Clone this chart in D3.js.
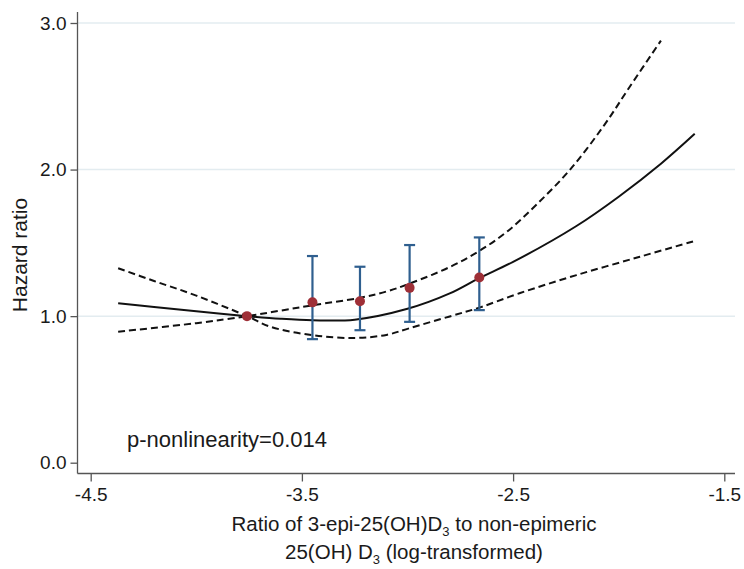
<!DOCTYPE html>
<html>
<head>
<meta charset="utf-8">
<script src="https://cdn.jsdelivr.net/npm/d3@7"></script>
<style>
body { margin: 0; background: #fff; }
svg text { font-family: "Liberation Sans", Arial, sans-serif; fill: #1a1a1a; }
</style>
</head>
<body>
<svg width="744" height="569"></svg>
<script>
// fitted spline (hazard ratio)
var fitX = [-4.37, -4.2, -4.0, -3.76, -3.6, -3.45, -3.25, -3.0, -2.8, -2.66, -2.5, -2.2, -2.0, -1.8, -1.64];
var fitHR = [1.088, 1.062, 1.033, 1.0, 0.982, 0.972, 0.976, 1.05, 1.155, 1.26, 1.37, 1.615, 1.815, 2.04, 2.244];

// 95% CI bands, they cross at the reference value
var ciAX = [-4.37, -4.2, -4.0, -3.76, -3.65, -3.45, -3.25, -3.1, -2.99, -2.8, -2.66, -2.47, -2.2, -1.9, -1.64];
var ciAHR = [1.327, 1.24, 1.14, 1.0, 0.928, 0.87, 0.851, 0.872, 0.918, 0.998, 1.058, 1.156, 1.28, 1.405, 1.513];
var ciBX = [-4.37, -4.0, -3.76, -3.6, -3.45, -3.225, -3.1, -2.99, -2.8, -2.66, -2.53, -2.39, -2.23, -2.07, -1.95, -1.80];
var ciBHR = [0.894, 0.952, 1.0, 1.038, 1.074, 1.125, 1.168, 1.222, 1.335, 1.445, 1.575, 1.76, 2.0, 2.3, 2.56, 2.88];

// category estimates
var ptX = [-3.76, -3.45, -3.225, -2.99, -2.66];
var ptHR = [1.0, 1.094, 1.102, 1.193, 1.264];
var ptLo = [null, 0.843, 0.904, 0.961, 1.041];
var ptHi = [null, 1.41, 1.337, 1.485, 1.537];

var xTicks = [-4.5, -3.5, -2.5, -1.5];
var yTicks = [0, 1, 2, 3];

var svg = d3.select('svg');

var x = d3.scaleLinear().domain([-4.5, -1.5]).range([90.7, 724.3]);
var y = d3.scaleLinear().domain([0, 3]).range([462.7, 23]);

var axisX = 77.5, axisY = 473.5;
var fmt = function(d){ return d.toFixed(1); };

// grid
svg.selectAll('.grid')
    .data(yTicks.filter(function(d){ return d > 0; }))
    .enter()
    .append('line')
    .attr('x1', axisX)
    .attr('x2', 735)
    .attr('y1', function(d){ return y(d); })
    .attr('y2', function(d){ return y(d); })
    .attr('stroke', '#e3ecf0')
    .attr('stroke-width', 1.5);

// axes
var yAxis = svg.append('g')
    .attr('transform', 'translate(' + axisX + ',0)')
    .call(d3.axisLeft(y).tickValues(yTicks).tickFormat(fmt).tickSize(7).tickPadding(4).tickSizeOuter(0));
var xAxis = svg.append('g')
    .attr('transform', 'translate(0,' + axisY + ')')
    .call(d3.axisBottom(x).tickValues(xTicks).tickFormat(fmt).tickSize(8).tickPadding(6).tickSizeOuter(0));

[yAxis, xAxis].forEach(function(g){
    g.select('.domain').remove();
    g.selectAll('line').attr('stroke', '#555').attr('stroke-width', 1.3);
    g.selectAll('text').attr('font-size', 19).attr('fill', '#1a1a1a')
        .attr('font-family', '"Liberation Sans", Arial, sans-serif');
});

svg.append('line')
    .attr('x1', axisX).attr('x2', axisX)
    .attr('y1', 12).attr('y2', axisY)
    .attr('stroke', '#555').attr('stroke-width', 1.3);
svg.append('line')
    .attr('x1', axisX).attr('x2', 735)
    .attr('y1', axisY).attr('y2', axisY)
    .attr('stroke', '#555').attr('stroke-width', 1.3);

// curves
var lineFunction = d3.line()
    .curve(d3.curveCatmullRom.alpha(0.5))
    .x(function(d){ return x(d[0]); })
    .y(function(d){ return y(d[1]); });

function pairs(xs, ys){
    return xs.map(function(v, i){ return [v, ys[i]]; });
}

svg.append('path')
    .datum(pairs(ciAX, ciAHR))
    .attr('d', lineFunction)
    .attr('fill', 'none')
    .attr('stroke', '#111')
    .attr('stroke-width', 2)
    .attr('stroke-dasharray', '7,4');

svg.append('path')
    .datum(pairs(ciBX, ciBHR))
    .attr('d', lineFunction)
    .attr('fill', 'none')
    .attr('stroke', '#111')
    .attr('stroke-width', 2)
    .attr('stroke-dasharray', '7,4');

svg.append('path')
    .datum(pairs(fitX, fitHR))
    .attr('d', lineFunction)
    .attr('fill', 'none')
    .attr('stroke', '#111')
    .attr('stroke-width', 2);

// error bars
var bars = svg.selectAll('.bar')
    .data(ptX.map(function(v, i){ return {x: v, lo: ptLo[i], hi: ptHi[i]}; })
        .filter(function(d){ return d.lo !== null; }))
    .enter()
    .append('g')
    .attr('stroke', '#2f5f8f')
    .attr('stroke-width', 2.2);

bars.append('line')
    .attr('x1', function(d){ return x(d.x); })
    .attr('x2', function(d){ return x(d.x); })
    .attr('y1', function(d){ return y(d.lo); })
    .attr('y2', function(d){ return y(d.hi); });
bars.append('line')
    .attr('x1', function(d){ return x(d.x) - 5.5; })
    .attr('x2', function(d){ return x(d.x) + 5.5; })
    .attr('y1', function(d){ return y(d.hi); })
    .attr('y2', function(d){ return y(d.hi); });
bars.append('line')
    .attr('x1', function(d){ return x(d.x) - 5.5; })
    .attr('x2', function(d){ return x(d.x) + 5.5; })
    .attr('y1', function(d){ return y(d.lo); })
    .attr('y2', function(d){ return y(d.lo); });

svg.selectAll('.pt')
    .data(ptX)
    .enter()
    .append('circle')
    .attr('cx', function(d){ return x(d); })
    .attr('cy', function(d, i){ return y(ptHR[i]); })
    .attr('r', 5)
    .attr('fill', '#9e2f37');

// titles
svg.append('text')
    .attr('transform', 'translate(27,255) rotate(-90)')
    .attr('text-anchor', 'middle')
    .attr('font-size', 21)
    .text('Hazard ratio');

var t1 = svg.append('text')
    .attr('x', 414)
    .attr('y', 531)
    .attr('text-anchor', 'middle')
    .attr('font-size', 20.5);
t1.append('tspan').text('Ratio of 3-epi-25(OH)D');
t1.append('tspan').attr('font-size', 13).attr('dy', 5).text('3');
t1.append('tspan').attr('dy', -5).text(' to non-epimeric');

var t2 = svg.append('text')
    .attr('x', 414)
    .attr('y', 559)
    .attr('text-anchor', 'middle')
    .attr('font-size', 20.5);
t2.append('tspan').text('25(OH) D');
t2.append('tspan').attr('font-size', 13).attr('dy', 5).text('3');
t2.append('tspan').attr('dy', -5).text(' (log-transformed)');

svg.append('text')
    .attr('x', 127)
    .attr('y', 446.5)
    .attr('font-size', 22)
    .text('p-nonlinearity=0.014');
</script>
</body>
</html>
